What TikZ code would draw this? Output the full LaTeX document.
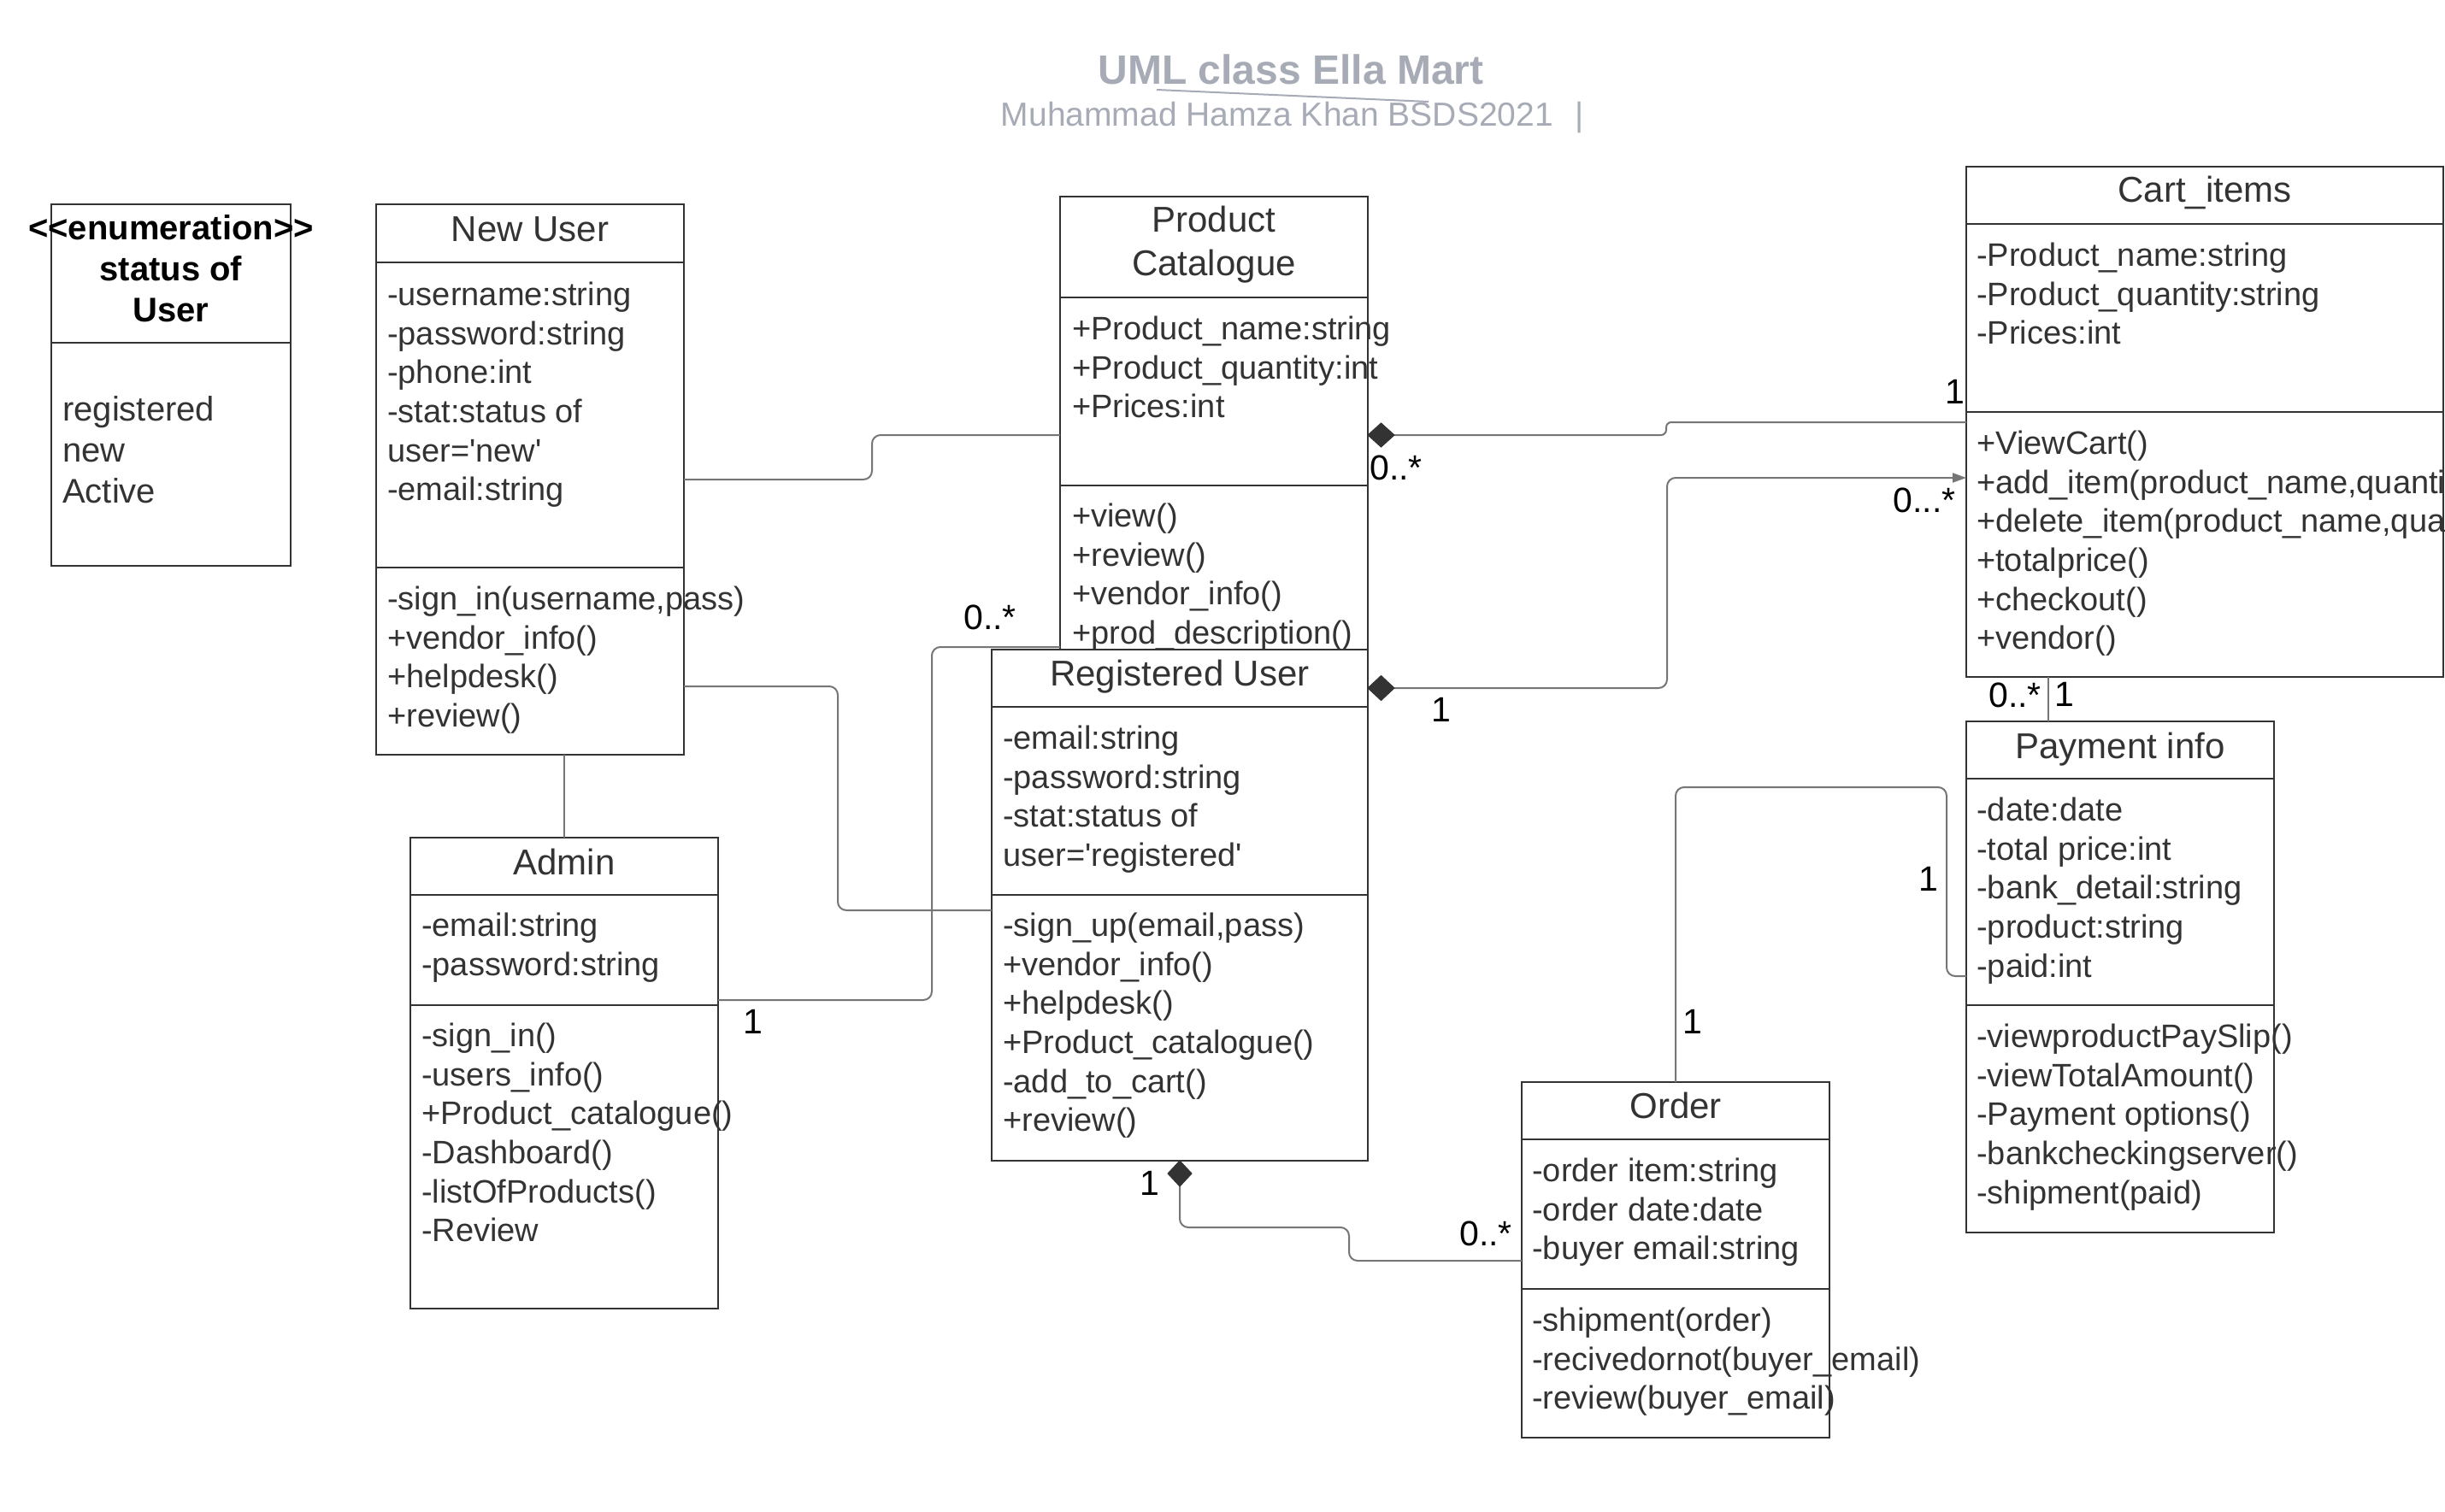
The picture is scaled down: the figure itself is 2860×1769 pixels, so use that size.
\documentclass[tikz,border=0pt]{standalone}
\usepackage{fontspec}
\setmainfont{Liberation Sans}[Ligatures=TeXOff]
\usetikzlibrary{arrows.meta}
\definecolor{boxc}{RGB}{51,51,51}
\definecolor{connc}{RGB}{118,118,118}
\definecolor{titlec}{RGB}{166,171,181}
\newcommand\bodyfont{\fontsize{38}{45.6}\selectfont}
\newcommand\hdrfont{\fontsize{42}{50.4}\selectfont}
\newcommand\enumfont{\fontsize{40}{48}\selectfont}
\newcommand\lblfont{\fontsize{41}{49}\selectfont}
\begin{document}
\begin{tikzpicture}[x=1pt,y=-1pt,
  classbox/.style={draw=boxc, line width=2.5pt, fill=white, inner sep=0pt, outer sep=0pt, anchor=north west},
  sepline/.style={draw=boxc, line width=2.5pt},
  hdr/.style={inner sep=0pt, text=boxc, font=\hdrfont, align=center, execute at begin node=\strut},
  txt/.style={inner sep=0pt, text=boxc, font=\bodyfont, align=left, anchor=north west, execute at begin node=\strut},
  conn/.style={draw=connc, line width=2pt, rounded corners=10pt},
  diam/.style={fill=boxc, draw=boxc, line width=1pt},
  lbl/.style={inner sep=0pt, text=black, font=\lblfont},
]
\useasboundingbox (0,0) rectangle (2860,1769);
\fill[white] (0,0) rectangle (2860,1769);

% title
\node[font=\fontsize{48}{57}\selectfont\bfseries, text=titlec, anchor=base, inner sep=0pt] (title) at (1510,99) {UML class Ella Mart};
\node[font=\fontsize{39}{47}\selectfont, text=titlec, anchor=base, inner sep=0pt] (subtitle) at (1512,147) {Muhammad Hamza Khan BSDS2021\hspace{26pt}|};
\draw[titlec, line width=2pt] (1353,105) -- (1671,119);

% enumeration
\node[classbox, minimum width=280, minimum height=423] (en) at (60,239) {};
\draw[sepline] (60,401) -- (340,401);
\node[anchor=north, inner sep=0pt, font=\enumfont\bfseries, text=black, align=center, execute at begin node=\strut] (en-h) at (200,251) {<<enumeration>>\\status of\\User};
\node[txt, font=\enumfont] (en-a) at (73,463) {registered\\new\\Active};

% New User
\node[classbox, minimum width=360, minimum height=644] (nu) at (440,239) {};
\draw[sepline] (440,307) -- (800,307);
\draw[sepline] (440,664) -- (800,664);
\node[hdr] (nu-h) at (620,272) {New User};
\node[txt] (nu-a) at (453,330) {-username:string\\-password:string\\-phone:int\\-stat:status of\\user=\textquotesingle new\textquotesingle\\-email:string};
\node[txt] (nu-m) at (453,686) {-sign\_in(username,pass)\\+vendor\_info()\\+helpdesk()\\+review()};

% Product Catalogue
\node[classbox, minimum width=360, minimum height=530] (pc) at (1240,230) {};
\draw[sepline] (1240,348) -- (1600,348);
\draw[sepline] (1240,568) -- (1600,568);
\node[hdr, anchor=north] (pc-h) at (1420,241) {Product\\Catalogue};
\node[txt] (pc-a) at (1254,370) {+Product\_name:string\\+Product\_quantity:int\\+Prices:int};
\node[txt] (pc-m) at (1254,589) {+view()\\+review()\\+vendor\_info()\\+prod\_description()};

% Registered User
\node[classbox, minimum width=440, minimum height=598] (ru) at (1160,760) {};
\draw[sepline] (1160,827) -- (1600,827);
\draw[sepline] (1160,1047) -- (1600,1047);
\node[hdr] (ru-h) at (1380,792) {Registered User};
\node[txt] (ru-a) at (1173,849) {-email:string\\-password:string\\-stat:status of\\user=\textquotesingle registered\textquotesingle};
\node[txt] (ru-m) at (1173,1068) {-sign\_up(email,pass)\\+vendor\_info()\\+helpdesk()\\+Product\_catalogue()\\-add\_to\_cart()\\+review()};

% Admin
\node[classbox, minimum width=360, minimum height=551] (ad) at (480,980) {};
\draw[sepline] (480,1047) -- (840,1047);
\draw[sepline] (480,1176) -- (840,1176);
\node[hdr] (ad-h) at (660,1013) {Admin};
\node[txt] (ad-a) at (493,1068) {-email:string\\-password:string};
\node[txt] (ad-m) at (493,1197) {-sign\_in()\\-users\_info()\\+Product\_catalogue()\\-Dashboard()\\-listOfProducts()\\-Review};

% Cart_items
\node[classbox, minimum width=558, minimum height=597] (ca) at (2300,195) {};
\draw[sepline] (2300,262) -- (2858,262);
\draw[sepline] (2300,482) -- (2858,482);
\node[hdr] (ca-h) at (2579,226) {Cart\_items};
\node[txt] (ca-a) at (2312,284) {-Product\_name:string\\-Product\_quantity:string\\-Prices:int};
\node[txt] (ca-m) at (2312,504) {+ViewCart()\\+add\_item(product\_name,quanti\\+delete\_item(product\_name,qua\\+totalprice()\\+checkout()\\+vendor()};

% Payment info
\node[classbox, minimum width=360, minimum height=598] (pa) at (2300,844) {};
\draw[sepline] (2300,911) -- (2660,911);
\draw[sepline] (2300,1176) -- (2660,1176);
\node[hdr] (pa-h) at (2480,877) {Payment info};
\node[txt] (pa-a) at (2312,933) {-date:date\\-total price:int\\-bank\_detail:string\\-product:string\\-paid:int};
\node[txt] (pa-m) at (2312,1198) {-viewproductPaySlip()\\-viewTotalAmount()\\-Payment options()\\-bankcheckingserver()\\-shipment(paid)};

% Order
\node[classbox, minimum width=360, minimum height=416] (or) at (1780,1266) {};
\draw[sepline] (1780,1333) -- (2140,1333);
\draw[sepline] (1780,1508) -- (2140,1508);
\node[hdr] (or-h) at (1960,1298) {Order};
\node[txt] (or-a) at (1792,1355) {-order item:string\\-order date:date\\-buyer email:string};
\node[txt] (or-m) at (1792,1530) {-shipment(order)\\-recivedornot(buyer\_email)\\-review(buyer\_email)};

% connectors
\draw[conn] (nu.east) -- (1020,561) -- (1020,509) -- (pc.west |- 0,509);
\draw[conn] (nu.east |- 0,803) -- (980,803) -- (980,1065) -- (ru.west |- 0,1065);
\draw[conn] (ad.east |- 0,1170) -- (1090,1170) -- (1090,757) -- (pc.west |- 0,757);
\draw[conn] (ad.north) -- (ad.north |- nu.south);
\draw[conn, rounded corners=6pt] (pc.east |- 0,509) -- (1949,509) -- (1949,494) -- (ca.west |- 0,494);
\filldraw[diam] (pc.east |- 0,509) -- ++(15.5,-14) -- ++(15.5,14) -- ++(-15.5,14) -- cycle;
\draw[conn, -{Triangle[length=16pt,width=11pt]}] (ru.east |- 0,805) -- (1950,805) -- (1950,559) -- (ca.west |- 0,559);
\filldraw[diam] (ru.east |- 0,805) -- ++(15.5,-14.5) -- ++(15.5,14.5) -- ++(-15.5,14.5) -- cycle;
\draw[conn] (2396,0 |- ca.south) -- (2396,0 |- pa.north);
\draw[conn] (or.north) -- (1960,921) -- (2277,921) -- (2277,1142) -- (pa.west |- 0,1142);
\draw[conn] (ru.south) -- (1380,1436) -- (1578,1436) -- (1578,1475) -- (or.west |- 0,1475);
\filldraw[diam] (ru.south) -- ++(-14,15) -- ++(14,15) -- ++(14,-15) -- cycle;

% multiplicity labels
\node[lbl] (l1) at (881,1195) {1};
\node[lbl] (l2) at (1158,722) {0..*};
\node[lbl] (l3) at (1633,547) {0..*};
\node[lbl] (l4) at (2287,458) {1};
\node[lbl] (l5) at (1686,830) {1};
\node[lbl] (l6) at (2251,585) {0...*};
\node[lbl] (l7) at (2357,813) {0..*};
\node[lbl] (l8) at (2415,812) {1};
\node[lbl] (l9) at (1980,1195) {1};
\node[lbl] (l10) at (2256,1028) {1};
\node[lbl] (l11) at (1345,1384) {1};
\node[lbl] (l12) at (1738,1443) {0..*};
\end{tikzpicture}
\end{document}
